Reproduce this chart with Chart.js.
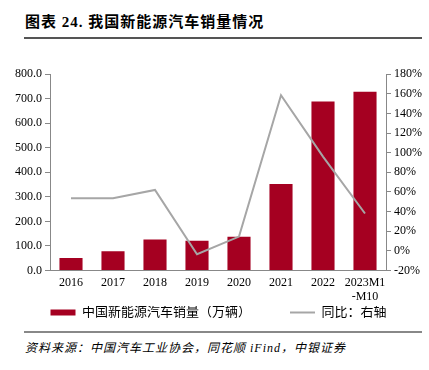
<!DOCTYPE html>
<html>
<head>
<meta charset="utf-8">
<script src="https://cdn.jsdelivr.net/npm/chart.js@4"></script>
<style>
body{margin:0;width:429px;height:370px;background:#fff;position:relative;overflow:hidden}
#title{position:absolute;left:25px;top:10px;font:bold 15px "Liberation Serif","Noto Sans CJK SC";color:#000;letter-spacing:1px}
#rule1{position:absolute;left:24px;top:37px;width:398px;height:2px;background:#555}
#rule2{position:absolute;left:24px;top:331px;width:398px;height:2px;background:#888}
#source{position:absolute;left:25px;top:338px;font:italic 12px "Liberation Serif","Noto Sans CJK SC";color:#000;letter-spacing:1px}
#box{position:absolute;left:0;top:64px;width:429px;height:265px}
</style>
</head>
<body>
<div id="title">图表 24. 我国新能源汽车销量情况</div>
<div id="rule1"></div>
<div id="box"><canvas id="nev"></canvas></div>
<div id="rule2"></div>
<div id="source">资料来源：中国汽车工业协会，同花顺 iFind，中银证券</div>
<script>
const years=["2016","2017","2018","2019","2020","2021","2022",["2023M1","-M10"]]
const sales=[50.7,77.7,125.6,120.6,136.7,352.1,688.7,728.0]
const growth=[53.5,53.5,62,-3.5,14.5,158.5,96,38]

const ctx=document.getElementById("nev")
Chart.defaults.font.family="Liberation Serif, Noto Sans CJK SC"
Chart.defaults.color="#000"
const baseLabels=Chart.defaults.plugins.legend.labels.generateLabels

new Chart(ctx,{
    data:{
        labels:years,
        datasets:[
            {
                type:"line",
                label:"同比：右轴",
                data:growth,
                yAxisID:"y1",
                borderColor:"#a6a6a6",
                backgroundColor:"#a6a6a6",
                borderWidth:2,
                pointRadius:0,
                pointStyle:"line",
                tension:0,
                order:1,
            },
            {
                type:"bar",
                label:"中国新能源汽车销量（万辆）",
                data:sales,
                yAxisID:"y",
                backgroundColor:"#a50021",
                pointStyle:"rect",
                categoryPercentage:1,
                barPercentage:0.55,
                order:2,
            },
        ],
    },
    options:{
        responsive:true,
        maintainAspectRatio:false,
        animation:false,
        layout:{padding:{left:12,right:4,top:4,bottom:0}},
        plugins:{
            legend:{
                position:"bottom",
                reverse:true,
                labels:{
                    usePointStyle:true,
                    pointStyleWidth:25,
                    boxHeight:6,
                    padding:0,
                    font:{size:13},
                    color:"#000",
                    generateLabels:chart=>{
                        const items=baseLabels(chart)
                        items.forEach(it=>{if(it.datasetIndex===1)it.text+="\u2003\u2003\u2003"})
                        return items
                    },
                },
            },
            tooltip:{enabled:false},
        },
        scales:{
            x:{
                grid:{display:false,drawTicks:true,tickLength:4,offset:true,color:"#888"},
                border:{color:"#888"},
                ticks:{font:{size:12,lineHeight:1.15},maxRotation:0,autoSkip:false,padding:2},
            },
            y:{
                position:"left",
                min:0,
                max:800,
                grid:{display:true,drawOnChartArea:false,tickLength:5,color:"#888"},
                border:{color:"#888"},
                ticks:{stepSize:100,autoSkip:false,font:{size:12},padding:3,callback:v=>v.toFixed(1)},
            },
            y1:{
                position:"right",
                min:-20,
                max:180,
                grid:{display:true,drawOnChartArea:false,tickLength:5,color:"#888"},
                border:{color:"#888"},
                ticks:{stepSize:20,autoSkip:false,font:{size:12},padding:3,callback:v=>v+"%"},
            },
        },
    },
})
</script>
</body>
</html>
